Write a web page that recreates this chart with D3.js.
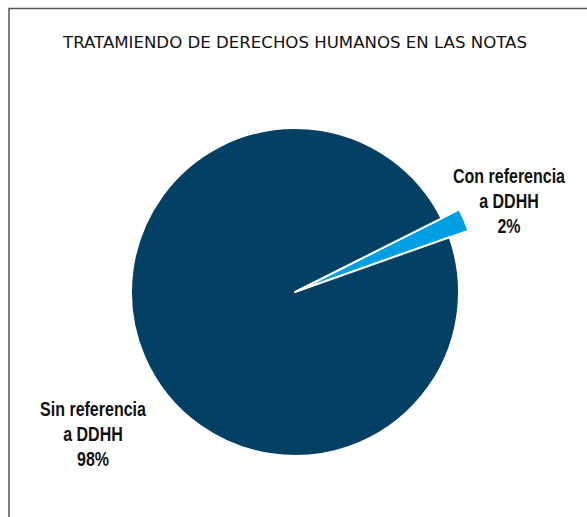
<!DOCTYPE html>
<html>
<head>
<meta charset="utf-8">
<script src="https://cdn.jsdelivr.net/npm/d3@7"></script>
<style>
  body { margin: 0; background: #fff; }
  .lbl { font-family: "Liberation Sans", Arial, sans-serif; font-weight: bold; font-size: 20px; fill: #111; }
  .title { font-family: "DejaVu Sans", sans-serif; font-size: 15px; fill: #111; }
</style>
</head>
<body>
<div id="chart"></div>
<script>
// data
var categories = ["Con referencia a DDHH", "Sin referencia a DDHH"];
var values = [2, 98];
var labelLines = [["Con referencia", "a DDHH", "2%"], ["Sin referencia", "a DDHH", "98%"]];
var colors = ["#009fe3", "#043f64"];

var width = 587, height = 517;
var cx = 295, cy = 292, r = 164;
var squeeze = 0.8; // no narrow font installed, squash the bold sans instead

var svg = d3.select("#chart").append("svg")
    .attr("width", width)
    .attr("height", height);

// frame
svg.append("path")
    .attr("d", "M9," + height + "V8.5H" + width)
    .attr("fill", "none")
    .attr("stroke", "#555")
    .attr("stroke-width", 1.5);

svg.append("text")
    .attr("class", "title")
    .attr("x", 295)
    .attr("y", 48)
    .attr("text-anchor", "middle")
    .attr("textLength", 464)
    .attr("lengthAdjust", "spacingAndGlyphs")
    .text("TRATAMIENDO DE DERECHOS HUMANOS EN LAS NOTAS");

var start = 63.3 * Math.PI / 180;
var pie = d3.pie().sort(null)
    .startAngle(start)
    .endAngle(start + 2 * Math.PI);

var arcs = pie(values);

var g = svg.append("g").attr("transform", "translate(" + cx + "," + cy + ")");

g.selectAll("path")
    .data(arcs)
    .enter()
    .append("path")
    .attr("d", function(d, i) {
        return d3.arc().innerRadius(0).outerRadius(i == 0 ? r + 20 : r)(d);
    })
    .attr("fill", function(d, i) { return colors[i]; })
    .attr("stroke", "#fff")
    .attr("stroke-width", 2)
    .attr("stroke-linejoin", "round");

// labels
var labelPos = [[509, 183], [93, 416]];
labelLines.forEach(function(lines, i) {
    var t = svg.append("g")
        .attr("transform", "translate(" + labelPos[i][0] + "," + labelPos[i][1] + ") scale(" + squeeze + ",1)")
        .append("text")
        .attr("class", "lbl")
        .attr("text-anchor", "middle");
    lines.forEach(function(s, j) {
        t.append("tspan")
            .attr("x", 0)
            .attr("dy", j == 0 ? 0 : 25)
            .text(s);
    });
});
</script>
</body>
</html>
